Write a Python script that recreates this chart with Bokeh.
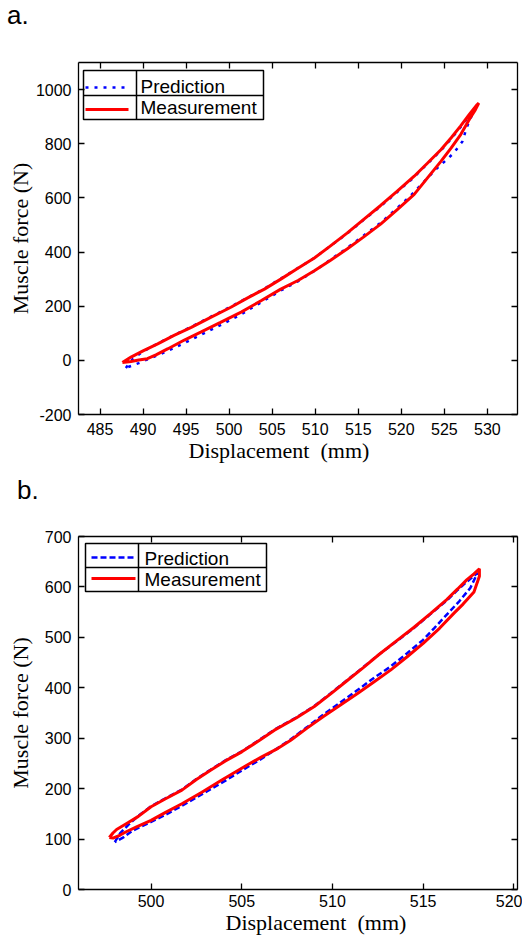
from bokeh.plotting import figure
from bokeh.models import Range1d, LinearAxis, FixedTicker, Label, CustomJSTickFormatter, Title, Div
from bokeh.layouts import column
from bokeh.embed import file_html
from bokeh.resources import INLINE

# ---------------- data ----------------
# Panel a: measurement loop (upper branch, then return along lower branch)
a_meas_x = [487.6, 488.6, 490.0, 491.7, 493.6, 495.6, 497.8, 500.2, 502.1, 504.1, 506.0, 507.9,
            509.9, 511.7, 513.7, 515.6, 517.6, 519.5, 521.5, 523.0, 524.6, 525.8, 526.9, 527.9,
            528.8, 529.0,
            528.6, 528.0, 526.9, 525.8, 524.6, 523.0, 521.5, 519.5, 517.6, 515.6, 513.7, 511.7,
            509.9, 508.0, 506.0, 503.7, 501.4, 499.0, 496.7, 494.8, 492.9, 491.5, 490.5, 489.5,
            488.6, 487.6]
a_meas_f = [-8, 12, 35, 61, 92, 122, 158, 196, 230, 263, 300, 338,
            378, 421, 470, 520, 572, 624, 680, 727, 778, 822, 866, 908,
            944, 950,
            925, 895, 834, 785, 735, 672, 613, 556, 503, 455, 411, 368,
            331, 295, 263, 220, 178, 140, 104, 75, 43, 20, 6, 1,
            -4, -8]
a_pred_x = [488.0, 488.8, 490.0, 491.7, 493.6, 495.6, 497.8, 500.2, 502.1, 504.1, 506.0, 507.9,
            509.9, 511.7, 513.7, 515.6, 517.6, 519.5, 521.5, 523.0, 524.6, 525.8, 526.9, 527.9,
            528.6,
            528.2, 527.6, 527.1, 526.1, 525.3, 524.0, 522.5, 521.0, 519.5, 517.6, 515.6, 513.7,
            511.7, 509.9, 508.0, 506.0, 503.7, 501.4, 499.0, 496.7, 494.8, 492.9, 491.0, 489.5,
            488.0]
a_pred_f = [-28, 5, 33, 62, 93, 124, 160, 198, 231, 265, 302, 339,
            378, 421, 468, 518, 569, 621, 677, 725, 775, 818, 862, 903,
            935,
            905, 860, 808, 766, 742, 705, 655, 605, 562, 508, 460, 415,
            370, 330, 292, 258, 214, 170, 130, 94, 64, 35, 10, -10,
            -28]

# Panel b
b_meas_x = [497.7, 497.9, 498.1, 498.7, 499.3, 500.0, 500.8, 501.7, 502.5, 503.3, 504.1, 505.0,
            505.9, 506.8, 508.0, 509.0, 509.9, 510.8, 511.7, 512.6, 513.6, 514.5, 515.4, 516.3,
            516.9, 517.4, 517.8, 518.1,
            518.1, 517.8, 517.2, 516.7, 515.9, 515.0, 514.1, 513.2, 512.3, 511.4, 510.4, 509.5,
            508.6, 507.7, 507.0, 506.1, 505.3, 504.6, 503.9, 502.8, 501.7, 500.8, 500.0, 499.2,
            498.6, 498.3, 497.9, 497.7]
b_meas_f = [103, 112, 119, 132, 145, 164, 180, 197, 218, 237, 255, 273,
            294, 316, 340, 363, 388, 414, 440, 467, 495, 520, 547, 575,
            596, 614, 626, 636,
            621, 590, 566, 548, 518, 488, 461, 435, 412, 389, 365, 343,
            320, 296, 280, 263, 247, 232, 217, 193, 170, 153, 137, 124,
            114, 108, 102, 103]
b_pred_x = [498.0, 498.3, 498.8, 499.3, 500.0, 500.8, 501.7, 502.5, 503.3, 504.1, 505.0, 505.9,
            506.8, 508.0, 509.0, 509.9, 510.8, 511.7, 512.6, 513.6, 514.5, 515.4, 516.3, 516.9,
            517.4, 517.8, 518.0,
            517.6, 517.0, 516.3, 515.6, 515.0, 514.1, 513.2, 512.3, 511.4, 510.4, 509.5, 508.6,
            507.7, 506.8, 505.9, 505.0, 504.1, 503.0, 502.0, 501.0, 500.0, 499.0, 498.5, 498.0]
b_pred_f = [94, 112, 130, 146, 165, 181, 198, 219, 238, 256, 274, 295,
            317, 341, 364, 389, 415, 441, 467, 494, 519, 546, 573, 594,
            610, 622, 628,
            598, 572, 545, 518, 495, 468, 442, 420, 396, 370, 347, 322,
            298, 276, 255, 236, 216, 193, 172, 152, 134, 117, 104, 94]

a_xticks = [485, 490, 495, 500, 505, 510, 515, 520, 525, 530]
a_yticks = [-200, 0, 200, 400, 600, 800, 1000]
b_xticks = [500, 505, 510, 515, 520]
b_yticks = [0, 100, 200, 300, 400, 500, 600, 700]

series_names = ["Prediction", "Measurement"]
x_title = "Displacement\u00a0 (mm)"
y_title = "Muscle force (N)"
tags = ["a.", "b."]

TICK_FONT = "Liberation Sans"
SERIF = "Liberation Serif"
BASE_FIX = -6   # correction for alphabetic baseline placement


def tag_div(text, height, indent):
    html = ('<div style="font-family: \'Liberation Sans\', Arial, sans-serif; font-size: 26px; '
            'line-height: %dpx; margin: 0; padding: 0 0 0 %dpx; color: black;">%s</div>'
            % (height, indent, text))
    return Div(text=html, width=120, height=height, margin=(0, 0, 0, 0))


def build(xr, yr, xticks, yticks, fh, top, bottom, ylabel_standoff, xlabel_standoff,
          xtitle_offset, legend, pred_dash, win_top, mx, mf, px_, pf):
    fl, fw = 78, 439
    p = figure(frame_width=fw, frame_height=fh, x_range=Range1d(*xr), y_range=Range1d(*yr),
               output_backend="svg", toolbar_location=None,
               min_border_left=fl, min_border_right=5,
               min_border_top=top, min_border_bottom=bottom)
    p.grid.visible = False
    p.outline_line_color = None
    p.background_fill_color = "white"

    ft = win_top  # window y of the frame top

    def dx(px):
        return xr[0] + (px - fl) / fw * (xr[1] - xr[0])

    def dy(py):
        return yr[1] - (py - ft) / fh * (yr[1] - yr[0])

    # axes
    for ax in (p.xaxis[0], p.yaxis[0]):
        ax.major_tick_in = 6
        ax.major_tick_out = 0
        ax.minor_tick_line_color = None
        ax.axis_line_width = 1.3
        ax.major_tick_line_width = 1.3
        ax.major_label_text_font = TICK_FONT
        ax.major_label_text_font_size = "16px"
        ax.major_label_text_color = "black"
    p.xaxis[0].major_label_standoff = xlabel_standoff
    p.xaxis[0].ticker = FixedTicker(ticks=xticks)
    p.yaxis[0].ticker = FixedTicker(ticks=yticks)
    p.yaxis[0].major_label_overrides = {t: str(t) for t in yticks if t < 0}
    p.yaxis[0].major_label_standoff = 7
    p.yaxis[0].axis_label = y_title
    p.yaxis[0].axis_label_text_font = SERIF
    p.yaxis[0].axis_label_text_font_size = "22px"
    p.yaxis[0].axis_label_text_font_style = "normal"
    p.yaxis[0].axis_label_text_color = "black"
    p.yaxis[0].axis_label_standoff = ylabel_standoff

    blank = CustomJSTickFormatter(code="return ''")
    for loc, ticks in (("above", xticks), ("right", yticks)):
        ax = LinearAxis(ticker=FixedTicker(ticks=ticks), formatter=blank,
                        major_tick_in=6, major_tick_out=0, major_label_standoff=0,
                        minor_tick_line_color=None, axis_line_width=1.3,
                        major_tick_line_width=1.3, major_label_text_font_size="1px")
        p.add_layout(ax, loc)

    # x title as a title below the axis
    p.add_layout(Title(text=x_title, align="left", offset=xtitle_offset, standoff=0,
                       vertical_align="top", text_font=SERIF, text_font_size="22px",
                       text_font_style="normal", text_color="black"), "below")

    # data
    p.line(px_, pf, line_color="blue", line_width=2.5, line_dash=pred_dash)
    p.line(mx, mf, line_color="red", line_width=3)

    # legend (boxed table)
    (bl, bt, br, bb, vdiv, hdiv, sx0, sx1, sy1, sy2, tx, tb1, tb2) = legend
    p.quad(left=dx(bl), right=dx(br), top=dy(bt), bottom=dy(bb),
           fill_color="white", line_color="black", line_width=1.5)
    p.segment(x0=[dx(vdiv), dx(bl)], y0=[dy(bt), dy(hdiv)],
              x1=[dx(vdiv), dx(br)], y1=[dy(bb), dy(hdiv)],
              line_color="black", line_width=1.5)
    p.line([dx(sx0), dx(sx1)], [dy(sy1), dy(sy1)], line_color="blue",
           line_width=2.5, line_dash=pred_dash)
    p.line([dx(sx0), dx(sx1)], [dy(sy2), dy(sy2)], line_color="red", line_width=3)
    for name, base in zip(series_names, (tb1, tb2)):
        p.add_layout(Label(x=dx(tx), y=dy(base + BASE_FIX), text=name, text_font=TICK_FONT,
                           text_font_size="19px", text_color="black",
                           text_baseline="alphabetic", text_align="left"))
    return p


# window layout: div a (0-31), panel a (31-470), div b (470-510), panel b (510-)
div_a = tag_div(tags[0], 31, 7)
pa = build((482.5, 533.5), (-200, 1100), a_xticks, a_yticks, 352, 31, 56, 0, 8, 110,
           (83, 70, 263, 119, 136, 95, 85, 128, 87, 109, 140, 92, 113),
           "3 6", 62, a_meas_x, a_meas_f, a_pred_x, a_pred_f)
div_b = tag_div(tags[1], 40, 17)
pb = build((496.0, 520.2), (0, 700), b_xticks, b_yticks, 353, 26, 44, 9, 5, 147,
           (85, 543, 266, 591, 138, 567, 91, 135, 557, 578, 144, 564, 585),
           "6 3", 536, b_meas_x, b_meas_f, b_pred_x, b_pred_f)

layout = column(div_a, pa, div_b, pb, spacing=0)
open("out.html", "w").write(file_html(layout, INLINE))
